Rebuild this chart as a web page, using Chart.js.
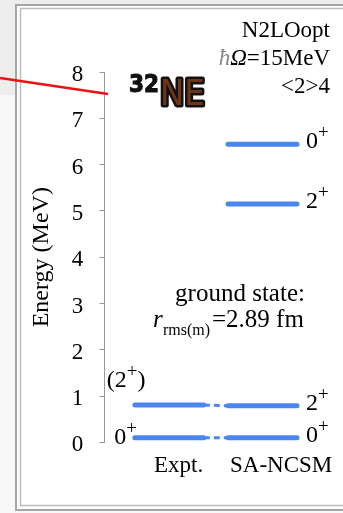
<!DOCTYPE html>
<html>
<head>
<meta charset="utf-8">
<script src="https://cdn.jsdelivr.net/npm/chart.js@4/dist/chart.umd.min.js"></script>
<style>
  html, body { margin: 0; padding: 0; background: #fff; }
  #wrap { position: relative; width: 343px; height: 513px; }
</style>
</head>
<body>
<div id="wrap"><canvas id="levels"></canvas></div>
<script>
// columns on the x axis
const columns = ['Expt.', 'SA-NCSM'];
// experimental levels of 32Ne (MeV) and their spins
const exptEnergies = [0.1, 0.81];
const exptSpins = ['0+', '(2+)'];
// SA-NCSM levels (MeV) and their spins
const ncsmEnergies = [0.1, 0.79, 5.15, 6.44];
const ncsmSpins = ['0+', '2+', '2+', '0+'];
// energy axis ticks
const energyTicks = [0, 1, 2, 3, 4, 5, 6, 7, 8];
// notes
const modelLines = ['N2LOopt', '=15MeV', '<2>4'];
const radiusValue = '=2.89 fm';

const SERIF = '"Liberation Serif", "Times New Roman", serif';
const BLUE = '#4a86f0';
const HALF = 0.37; // half width of a level bar, in column units

function levelSet(col, e) {
    return {
        data: [{ x: col - HALF, y: e }, { x: col + HALF, y: e }],
        borderColor: BLUE,
        borderWidth: 5,
        borderCapStyle: 'round',
        pointRadius: 0,
        showLine: true
    };
}

const datasets = [];
// dashed links between matching levels
exptEnergies.forEach((e, i) => {
    datasets.push({
        data: [{ x: HALF, y: e }, { x: 1 - HALF, y: ncsmEnergies[i] }],
        borderColor: BLUE,
        borderWidth: 3,
        borderDash: [6, 4],
        pointRadius: 0,
        showLine: true
    });
});
exptEnergies.forEach(e => datasets.push(levelSet(0, e)));
ncsmEnergies.forEach(e => datasets.push(levelSet(1, e)));

// spin label like 0+ or (2+), the + raised
function drawSpin(ctx, text, x, y, align) {
    const parts = [...text].map(ch => ({ t: ch, sup: ch === '+' }));
    let w = 0;
    parts.forEach(p => {
        ctx.font = (p.sup ? '19px ' : '24px ') + SERIF;
        p.w = ctx.measureText(p.t).width;
        w += p.w;
    });
    let cx = align === 'right' ? x - w : x;
    ctx.textAlign = 'left';
    ctx.textBaseline = 'alphabetic';
    parts.forEach(p => {
        ctx.font = (p.sup ? '19px ' : '24px ') + SERIF;
        ctx.fillText(p.t, cx, p.sup ? y - 10 : y);
        cx += p.w;
    });
}

const decor = {
    id: 'decor',
    beforeDraw(chart) {
        const ctx = chart.ctx;
        ctx.save();
        ctx.fillStyle = '#f8f8f8';
        ctx.fillRect(0, 0, 343, 513);
        ctx.fillStyle = '#ededed';
        ctx.fillRect(0, 0, 343, 95);
        ctx.fillStyle = '#fff';
        ctx.fillRect(16, 4, 340, 506);
        ctx.strokeStyle = '#a5a5a5';
        ctx.lineWidth = 2;
        ctx.strokeRect(16, 5, 340, 505);
        ctx.strokeStyle = '#bdbdbd';
        ctx.lineWidth = 1.5;
        ctx.strokeRect(20.5, 8.5, 340, 497);
        ctx.restore();
    },
    afterDraw(chart) {
        const ctx = chart.ctx;
        const xs = chart.scales.x, ys = chart.scales.y;
        ctx.save();
        ctx.fillStyle = '#000';

        // spin labels
        const ex0 = xs.getPixelForValue(-HALF);
        drawSpin(ctx, exptSpins[0], ex0 + 2, ys.getPixelForValue(exptEnergies[0]) + 6, 'right');
        drawSpin(ctx, exptSpins[1], ex0 - 28, ys.getPixelForValue(exptEnergies[1]) - 18, 'left');
        const nx1 = xs.getPixelForValue(1 + HALF);
        ncsmEnergies.forEach((e, i) => {
            drawSpin(ctx, ncsmSpins[i], nx1 + 9, ys.getPixelForValue(e) + 4, 'left');
        });

        // model notes, top right
        ctx.textAlign = 'right';
        ctx.textBaseline = 'alphabetic';
        ctx.font = '23px ' + SERIF;
        ctx.fillText(modelLines[0], 330, 37);
        const w15 = ctx.measureText(modelLines[1]).width;
        ctx.fillText(modelLines[1], 330, 65);
        ctx.fillText(modelLines[2], 330, 93);
        ctx.textAlign = 'left';
        ctx.font = 'italic 23px ' + SERIF;
        const wO = ctx.measureText('Ω').width;
        ctx.fillText('Ω', 330 - w15 - wO, 65);
        ctx.fillStyle = '#888';
        const wh = ctx.measureText('ħ').width;
        ctx.fillText('ħ', 330 - w15 - wO - wh, 65);
        ctx.fillStyle = '#000';

        // ground state radius
        ctx.font = '25px ' + SERIF;
        ctx.textAlign = 'center';
        ctx.fillText('ground state:', 240, 301);
        ctx.textAlign = 'left';
        ctx.font = 'italic 25px ' + SERIF;
        ctx.fillText('r', 153, 327);
        ctx.font = '16px ' + SERIF;
        ctx.fillText('rms(m)', 163, 335);
        ctx.font = '25px ' + SERIF;
        ctx.fillText(radiusValue, 212, 327);

        // 32Ne badge
        ctx.font = 'bold 24px "DejaVu Sans Condensed", "DejaVu Sans", sans-serif';
        ctx.lineWidth = 1;
        ctx.strokeStyle = '#111';
        ctx.fillStyle = '#111';
        ctx.fillText('32', 129, 92);
        ctx.strokeText('32', 129, 92);
        ctx.font = '36px "DejaVu Sans Condensed", "DejaVu Sans", sans-serif';
        ctx.lineJoin = 'round';
        ctx.lineWidth = 5;
        ctx.strokeText('NE', 160, 105);
        ctx.fillStyle = '#6e3518';
        ctx.fillText('NE', 160, 105);

        // red pointer
        ctx.strokeStyle = '#ee1111';
        ctx.lineWidth = 2.5;
        ctx.beginPath();
        ctx.moveTo(0, 78);
        ctx.lineTo(108, 94);
        ctx.stroke();
        ctx.restore();
    }
};

new Chart(document.getElementById('levels'), {
    type: 'scatter',
    data: { datasets: datasets },
    options: {
        responsive: true,
        maintainAspectRatio: false,
        animation: false,
        layout: { padding: { left: 27, top: 72, right: 3, bottom: 23 } },
        plugins: { legend: { display: false }, tooltip: { enabled: false } },
        scales: {
            x: {
                type: 'linear',
                min: -0.698,
                max: 1.82,
                afterBuildTicks: s => { s.ticks = [{ value: 0.1 }, { value: 1.2 }]; },
                ticks: {
                    callback: v => columns[Math.round(v)],
                    font: { family: SERIF, size: 23 },
                    color: '#000',
                    padding: 10
                },
                grid: { display: false, drawTicks: false, tickLength: 0 },
                border: { display: false }
            },
            y: {
                min: 0,
                max: 8,
                afterBuildTicks: s => { s.ticks = energyTicks.map(v => ({ value: v })); },
                ticks: {
                    font: { family: SERIF, size: 23 },
                    color: '#000',
                    padding: 16,
                    labelOffset: 3
                },
                grid: { drawOnChartArea: false, color: '#999', tickLength: 5 },
                border: { color: '#999', width: 1 },
                title: {
                    display: true,
                    text: 'Energy (MeV)',
                    font: { family: SERIF, size: 24 },
                    color: '#000',
                    padding: { top: 0, bottom: 0 }
                }
            }
        }
    },
    plugins: [decor]
});
</script>
<style>#wrap canvas { width: 343px !important; height: 513px !important; }</style>
</body>
</html>
